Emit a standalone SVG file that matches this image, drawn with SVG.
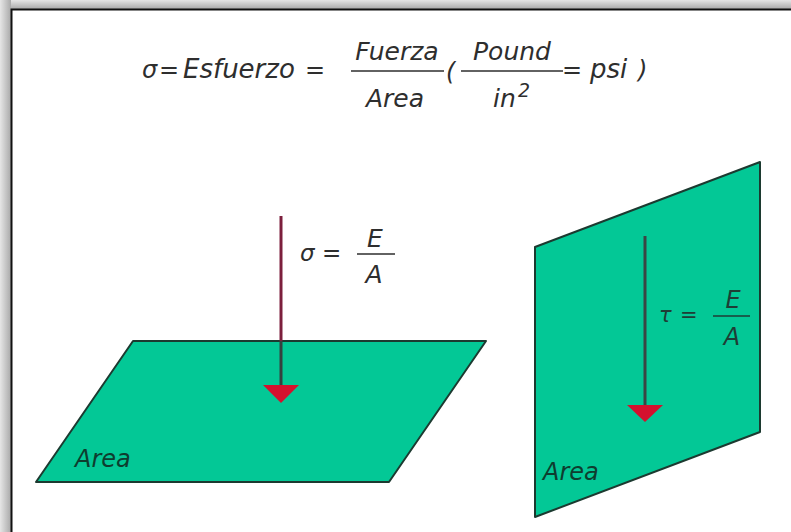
<svg xmlns="http://www.w3.org/2000/svg" width="791" height="532" viewBox="0 0 791 532">
  <defs>
    <linearGradient id="shTop" x1="0" y1="0" x2="0" y2="1">
      <stop offset="0" stop-color="#e6e6e6"/>
      <stop offset="1" stop-color="#a9a9a9"/>
    </linearGradient>
    <linearGradient id="shLeft" x1="0" y1="0" x2="1" y2="0">
      <stop offset="0" stop-color="#e6e6e6"/>
      <stop offset="1" stop-color="#a9a9a9"/>
    </linearGradient>
    <style>
      .plane { fill: #03c896; stroke: #1c3a30; stroke-width: 2; stroke-linejoin: round; }
      .f { font-family: "DejaVu Sans", "Liberation Sans", sans-serif; font-style: oblique; fill: #2e2e2e; }
      .area { font-family: "DejaVu Sans", "Liberation Sans", sans-serif; font-style: oblique; font-size: 24px; fill: #0e3d2f; }
      .bar { stroke: #2e2e2e; stroke-width: 1.6; }
      .head { fill: #d4112e; }
    </style>
  </defs>
  <rect x="0" y="0" width="791" height="532" fill="#ffffff"/>
  <rect x="0" y="0" width="791" height="9" fill="url(#shTop)"/>
  <rect x="0" y="0" width="11" height="532" fill="url(#shLeft)"/>
  <path d="M11.5,532 V9.5 H791" fill="none" stroke="#111" stroke-width="2"/>

  <g id="formula">
    <text class="f" x="142" y="78" font-size="24">σ</text>
    <text class="f" x="159" y="78" font-size="24">=</text>
    <text class="f" x="183" y="78" font-size="26">Esfuerzo</text>
    <text class="f" x="305" y="78" font-size="24">=</text>
    <text class="f" x="397" y="60" font-size="25" text-anchor="middle">Fuerza</text>
    <line class="bar" x1="351" y1="71" x2="444" y2="71"/>
    <text class="f" x="395" y="107" font-size="25" text-anchor="middle">Area</text>
    <text class="f" x="446" y="80" font-size="24">(</text>
    <text class="f" x="512" y="60" font-size="25" text-anchor="middle">Pound</text>
    <line class="bar" x1="461" y1="71" x2="563" y2="71"/>
    <text class="f" x="493" y="107" font-size="25">in</text>
    <text class="f" x="518" y="97" font-size="19">2</text>
    <text class="f" x="562" y="78" font-size="24">=</text>
    <text class="f" x="590" y="78" font-size="26">psi</text>
    <text class="f" x="638" y="78" font-size="24">)</text>
  </g>

  <g id="plane-horizontal">
    <polygon class="plane" points="133,341 486,341 389,482 36,482"/>
    <text class="area" x="75" y="467">Area</text>
  </g>

  <g id="plane-vertical">
    <polygon class="plane" points="535,247 760,162 760,432 535,517"/>
    <text class="area" x="543" y="480">Area</text>
  </g>

  <g id="label-sigma">
    <text class="f" x="300" y="261" font-size="23">σ</text>
    <text class="f" x="322" y="261" font-size="23">=</text>
    <text class="f" x="375" y="247" font-size="25" text-anchor="middle">E</text>
    <line class="bar" x1="357" y1="254" x2="395" y2="254"/>
    <text class="f" x="374" y="283" font-size="25" text-anchor="middle">A</text>
  </g>

  <g id="label-tau">
    <text class="f" x="659" y="322" font-size="21" style="fill:#1f3d35">τ</text>
    <text class="f" x="680" y="322" font-size="21" style="fill:#1f3d35">=</text>
    <text class="f" x="733" y="308" font-size="24" text-anchor="middle" style="fill:#1f3d35">E</text>
    <line x1="713" y1="316" x2="750" y2="316" stroke="#1f3d35" stroke-width="1.6"/>
    <text class="f" x="732" y="345" font-size="24" text-anchor="middle" style="fill:#1f3d35">A</text>
  </g>

  <g id="connectors">
    <line x1="281" y1="216" x2="281" y2="341" stroke="#7c1f3c" stroke-width="3"/>
    <line x1="281" y1="341" x2="281" y2="387" stroke="#34413f" stroke-width="3"/>
    <polygon class="head" points="263,385 299,385 281,403"/>
    <line x1="645" y1="236" x2="645" y2="407" stroke="#3a4644" stroke-width="3"/>
    <polygon class="head" points="627,405 663,405 645,422"/>
  </g>
</svg>
